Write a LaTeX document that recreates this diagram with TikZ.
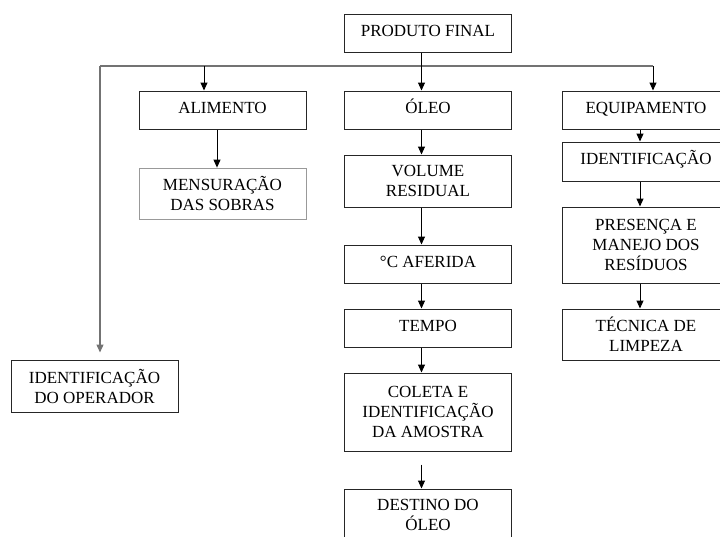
\documentclass[tikz,border=0pt]{standalone}
\usepackage{fontspec}
\setmainfont{Liberation Serif}
\usetikzlibrary{arrows.meta}
\begin{document}
\begin{tikzpicture}[x=1pt,y=-1pt,
  bx/.style={draw=black!85, line width=1pt, inner sep=0pt, minimum width=167pt,
    align=center, font=\fontsize{17}{20}\selectfont},
  one/.style={text height=11pt, text depth=5pt},
  conn/.style={draw=black, line width=1pt, -{Triangle[width=7pt,length=8pt]}},
  bus/.style={draw=black!55, line width=1.3pt}]
\useasboundingbox (0,0) rectangle (720,536);
\clip (0,0) rectangle (720,536);
% boxes
\node[bx, one, minimum height=38pt] (prod) at (428,33) {PRODUTO FINAL};
\node[bx, one, minimum height=38pt] (alim) at (222.5,110) {ALIMENTO};
\node[bx, draw=black!40, line width=0.8pt, minimum height=51pt] (mens) at (222.5,193.5) {MENSURAÇÃO\\DAS SOBRAS};
\node[bx, one, minimum height=38pt] (oleo) at (428,110) {ÓLEO};
\node[bx, minimum height=52pt] (vol) at (428,181) {VOLUME\\RESIDUAL};
\node[bx, one, minimum height=38pt] (afer) at (428,264) {°C AFERIDA};
\node[bx, one, minimum height=38pt] (tempo) at (428,328) {TEMPO};
\node[bx, minimum height=78pt] (coleta) at (428,412) {COLETA E\\IDENTIFICAÇÃO\\DA AMOSTRA};
\node[bx, minimum height=52pt] (dest) at (428,515) {DESTINO DO\\ÓLEO};
\node[bx, one, minimum width=168pt, minimum height=38pt] (equip) at (646,110) {EQUIPAMENTO};
\node[bx, one, minimum width=168pt, minimum height=39pt] (ident) at (646,161.5) {IDENTIFICAÇÃO};
\node[bx, minimum width=168pt, minimum height=76pt] (pres) at (646,245) {PRESENÇA E\\MANEJO DOS\\RESÍDUOS};
\node[bx, minimum width=168pt, minimum height=51pt] (tec) at (646,334.5) {TÉCNICA DE\\LIMPEZA};
\node[bx, minimum height=52pt] (oper) at (94.5,386) {IDENTIFICAÇÃO\\DO OPERADOR};
% bus coordinates
\coordinate (bl) at (100,66);
\coordinate (ba) at (204,66);
\coordinate (bm) at (421.5,66);
\coordinate (br) at (653,66);
\coordinate (am) at (217,0);
\coordinate (rc) at (640,0);
% connectors
\draw[bus] (bl) -- (br);
\draw[bus, -{Triangle[width=7pt,length=8pt]}] (bl) -- ([yshift=7pt]oper.north -| bl);
\draw[conn] (prod.south -| bm) -- (oleo.north -| bm);
\draw[conn] (ba) -- (alim.north -| ba);
\draw[conn] (br) -- (equip.north -| br);
\draw[conn] (alim.south -| am) -- (mens.north -| am);
\draw[conn] (oleo.south -| bm) -- (vol.north -| bm);
\draw[conn] (vol.south -| bm) -- (afer.north -| bm);
\draw[conn] (afer.south -| bm) -- (tempo.north -| bm);
\draw[conn] (tempo.south -| bm) -- (coleta.north -| bm);
\draw[conn] ([yshift=-13pt]coleta.south -| bm) -- (dest.north -| bm);
\draw[conn] (equip.south -| rc) -- (ident.north -| rc);
\draw[conn] (ident.south -| rc) -- (pres.north -| rc);
\draw[conn] (pres.south -| rc) -- (tec.north -| rc);
\end{tikzpicture}
\end{document}
